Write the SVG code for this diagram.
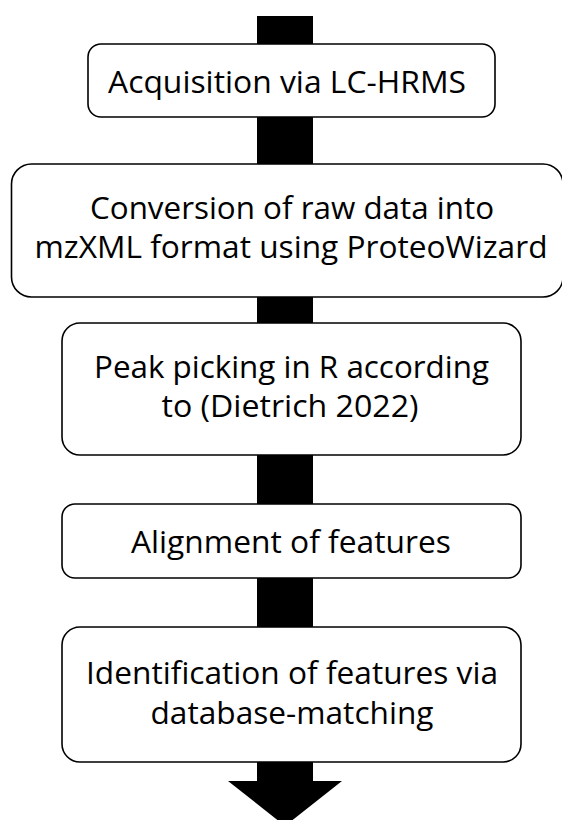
<svg xmlns="http://www.w3.org/2000/svg" width="562" height="820" viewBox="0 0 562 820">
<style>
.box{fill:#ffffff;stroke:#000000;stroke-width:1.6}
.t{font-family:"Open Sans","Noto Sans","Liberation Sans",sans-serif;font-size:31.5px;fill:#000000;text-anchor:middle}
</style>
<rect width="562" height="820" fill="#ffffff"/>
<g id="connectors">
<path d="M257 16 H313 V781 H342 L285 826 L228 781 H257 Z" fill="#000000"/>
</g>
<g id="n1">
<rect class="box" x="88" y="44" width="407" height="73" rx="13"/>
<text class="t" x="287" y="93" textLength="358" lengthAdjust="spacingAndGlyphs">Acquisition via LC-HRMS</text>
</g>
<g id="n2">
<rect class="box" x="11.5" y="164" width="551.5" height="133" rx="20"/>
<text class="t" x="292" y="219" textLength="404" lengthAdjust="spacingAndGlyphs">Conversion of raw data into</text>
<text class="t" x="291" y="258" textLength="513" lengthAdjust="spacingAndGlyphs">mzXML format using ProteoWizard</text>
</g>
<g id="n3">
<rect class="box" x="62" y="323" width="459" height="132" rx="18"/>
<text class="t" x="291.5" y="378" textLength="395" lengthAdjust="spacingAndGlyphs">Peak picking in R according</text>
<text class="t" x="290" y="417" textLength="257" lengthAdjust="spacingAndGlyphs">to (Dietrich 2022)</text>
</g>
<g id="n4">
<rect class="box" x="62" y="504" width="459" height="74" rx="13"/>
<text class="t" x="291" y="553" textLength="320" lengthAdjust="spacingAndGlyphs">Alignment of features</text>
</g>
<g id="n5">
<rect class="box" x="62" y="627" width="459" height="135" rx="18"/>
<text class="t" x="292" y="684" textLength="412" lengthAdjust="spacingAndGlyphs">Identification of features via</text>
<text class="t" x="292" y="724" textLength="283" lengthAdjust="spacingAndGlyphs">database-matching</text>
</g>
</svg>
